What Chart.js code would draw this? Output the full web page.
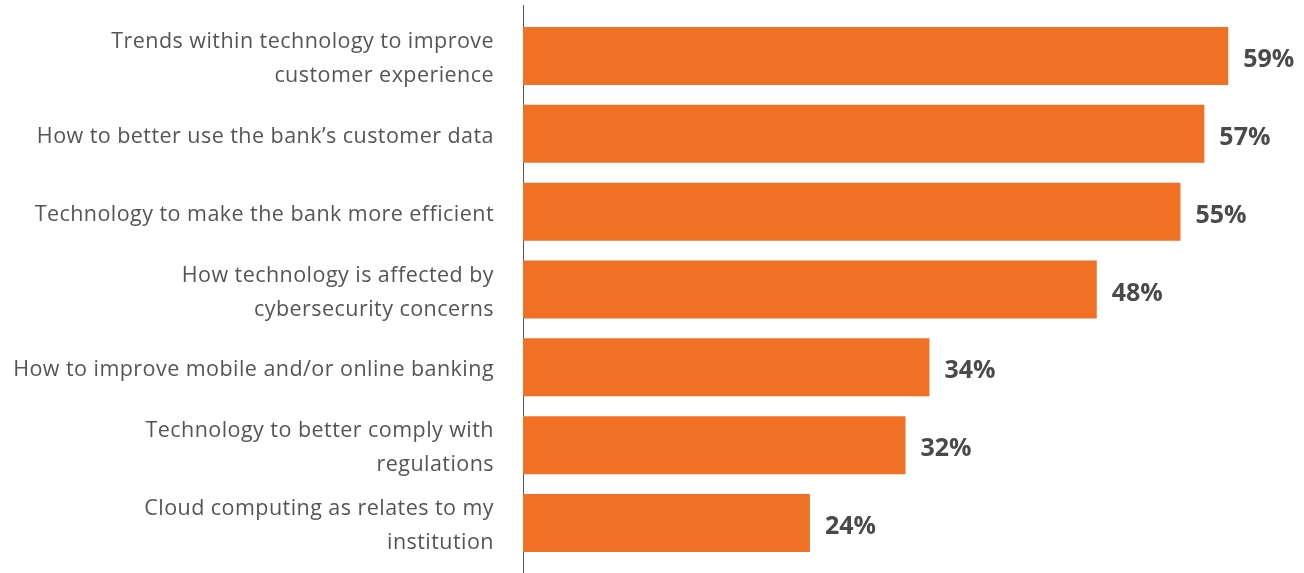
<!DOCTYPE html>
<html>
<head>
<meta charset="utf-8">
<script src="https://cdn.jsdelivr.net/npm/chart.js@4"></script>
<style>
    html, body { margin: 0; padding: 0; background: #ffffff; }
    #wrap { width: 1304px; height: 573px; position: relative; }
</style>
</head>
<body>
<div id="wrap"><canvas id="topicsChart"></canvas></div>
<script>
// Chart data
const categories = [
    ["Trends within technology to improve", "customer experience"],
    "How to better use the bank\u2019s customer data",
    "Technology to make the bank more efficient",
    ["How technology is affected by", "cybersecurity concerns"],
    "How to improve mobile and/or online banking",
    ["Technology to better comply with", "regulations"],
    ["Cloud computing as relates to my", "institution"]
];
const shares = [59, 57, 55, 48, 34, 32, 24];
const axisMax = 65;

const barColor = "#f07124";
const labelColor = "#555555";
const valueColor = "#4a4a4a";

// wider tracking for the category labels, like the original artwork
const tracking = {
    id: "tracking",
    beforeDraw(chart) { chart.ctx.letterSpacing = "0.45px"; },
    afterDraw(chart) { chart.ctx.letterSpacing = "0px"; }
};

// value labels at the end of each bar, plus the tall vertical axis line
const valueLabels = {
    id: "valueLabels",
    beforeDatasetsDraw(chart) {
        const ctx = chart.ctx;
        const x = chart.scales.x.left;
        ctx.save();
        ctx.strokeStyle = "#555555";
        ctx.lineWidth = 1;
        ctx.beginPath();
        ctx.moveTo(x + 0.5, chart.chartArea.top - 12);
        ctx.lineTo(x + 0.5, chart.chartArea.bottom + 11);
        ctx.stroke();
        ctx.restore();
    },
    afterDatasetsDraw(chart) {
        const ctx = chart.ctx;
        const meta = chart.getDatasetMeta(0);
        ctx.save();
        ctx.letterSpacing = "0px";
        ctx.font = "bold 25px 'Open Sans', sans-serif";
        ctx.fillStyle = valueColor;
        ctx.textAlign = "left";
        ctx.textBaseline = "middle";
        meta.data.forEach((bar, i) => {
            ctx.fillText(shares[i] + "%", bar.x + 15, bar.y + 4);
        });
        ctx.restore();
    }
};

new Chart(document.getElementById("topicsChart"), {
    type: "bar",
    data: {
        labels: categories,
        datasets: [{
            data: shares,
            backgroundColor: barColor,
            borderWidth: 0,
            barPercentage: 0.745,
            categoryPercentage: 1
        }]
    },
    options: {
        indexAxis: "y",
        responsive: true,
        maintainAspectRatio: false,
        animation: false,
        layout: { padding: { top: 17, bottom: 11, right: 4, left: 0 } },
        plugins: {
            legend: { display: false },
            tooltip: { enabled: false }
        },
        scales: {
            x: {
                display: false,
                min: 0,
                max: axisMax
            },
            y: {
                afterFit(scale) {
                    scale.width = 523;
                    scale.paddingTop = 0;
                    scale.paddingBottom = 0;
                },
                grid: { display: false, drawTicks: false },
                border: { display: false },
                ticks: {
                    color: labelColor,
                    padding: 29,
                    labelOffset: 3,
                    font: { family: "'Open Sans', sans-serif", size: 21.5, lineHeight: 1.57 }
                }
            }
        }
    },
    plugins: [tracking, valueLabels]
});
</script>
</body>
</html>
